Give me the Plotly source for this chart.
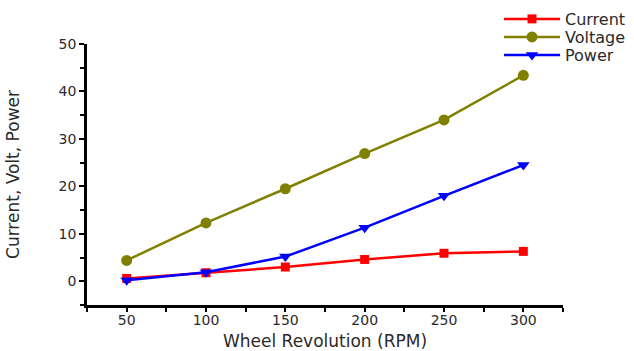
import plotly.graph_objects as go

rpm = [50, 100, 150, 200, 250, 300]
current = [0.6, 1.8, 3.0, 4.6, 5.9, 6.3]
voltage = [4.4, 12.3, 19.5, 26.9, 34.0, 43.4]
power = [0.2, 1.9, 5.2, 11.3, 18.0, 24.5]

x_ticks = [50, 100, 150, 200, 250, 300]
y_ticks = [0, 10, 20, 30, 40, 50]

W, H = 634, 351
fig = go.Figure()
fig.add_trace(go.Scatter(x=rpm, y=current, name="Current", mode="lines+markers",
                         line=dict(color="#FF0000", width=2.5),
                         marker=dict(symbol="square", size=9, color="#FF0000"),
                         legend="legend"))
fig.add_trace(go.Scatter(x=rpm, y=voltage, name="Voltage", mode="lines+markers",
                         line=dict(color="#808000", width=2.5),
                         marker=dict(symbol="circle", size=11, color="#808000"),
                         legend="legend2"))
fig.add_trace(go.Scatter(x=rpm, y=power, name="Power", mode="lines+markers",
                         line=dict(color="#0000FF", width=2.5),
                         marker=dict(symbol="triangle-down", size=11, color="#0000FF"),
                         legend="legend3"))

font_family = "DejaVu Sans, sans-serif"
txt = "#2a2a2a"


def leg(ypx):
    return dict(xref="container", yref="container", x=499 / W, y=1 - ypx / H,
                xanchor="left", yanchor="middle", bgcolor="rgba(0,0,0,0)",
                itemwidth=56, font=dict(family=font_family, size=16, color=txt),
                borderwidth=0)


fig.update_layout(
    width=W, height=H,
    margin=dict(l=87, r=71, t=44, b=46, autoexpand=False),
    paper_bgcolor="white", plot_bgcolor="white",
    font=dict(family=font_family, size=14, color=txt),
    showlegend=True,
    legend=leg(19), legend2=leg(37), legend3=leg(55),
    xaxis=dict(range=[25, 325], tickvals=x_ticks, ticktext=[str(v) for v in x_ticks],
               showgrid=False, zeroline=False, showline=True, linecolor="black", linewidth=2.5,
               ticks="outside", ticklen=4, tickwidth=2, tickcolor="black",
               ticklabelstandoff=-4,
               minor=dict(tickvals=[25, 75, 125, 175, 225, 275, 325], ticks="outside", ticklen=4, tickwidth=2, tickcolor="black"),
               tickfont=dict(size=14),
               title=dict(text="Wheel Revolution (RPM)", font=dict(size=17), standoff=16)),
    yaxis=dict(range=[-5, 50], tickvals=y_ticks, ticktext=[str(v) for v in y_ticks],
               showgrid=False, zeroline=False, showline=True, linecolor="black", linewidth=2.5,
               ticks="outside", ticklen=5, tickwidth=2, tickcolor="black",
               minor=dict(tickvals=[-5, 5, 15, 25, 35, 45], ticks="outside", ticklen=4, tickwidth=2, tickcolor="black"),
               tickfont=dict(size=14),
               title=dict(text="Current, Volt, Power", font=dict(size=17), standoff=35)),
)
fig.write_html("out.html")
